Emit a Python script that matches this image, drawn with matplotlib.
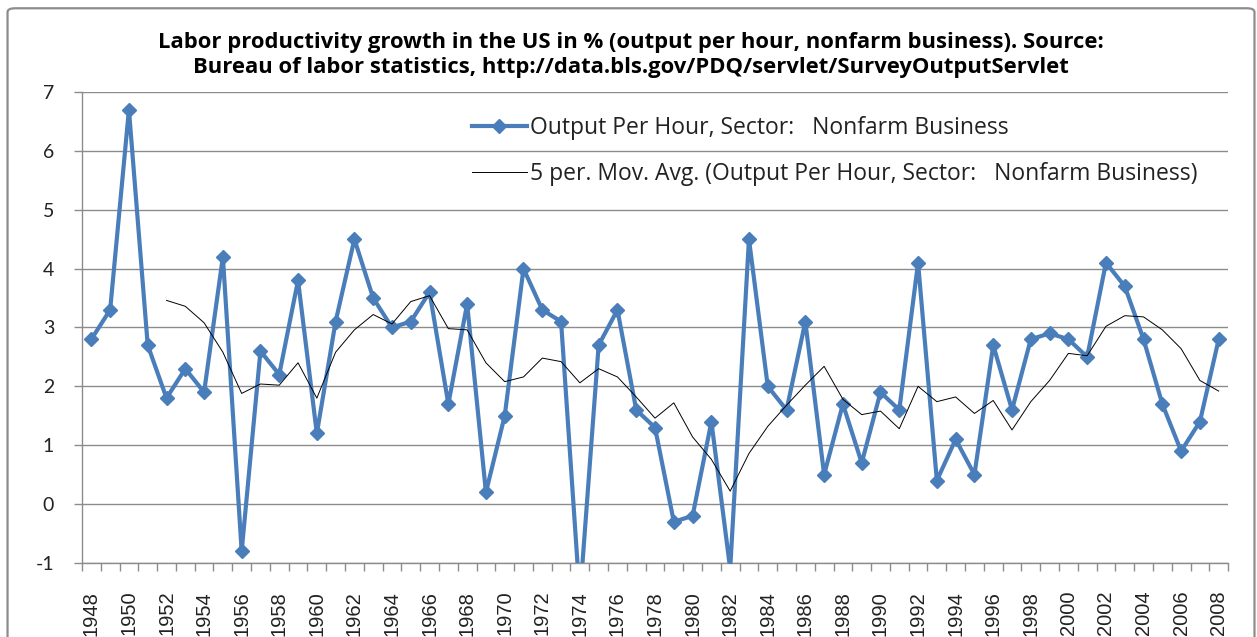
import matplotlib
matplotlib.use("Agg")
import matplotlib.pyplot as plt
from matplotlib.patches import FancyBboxPatch

# data
years = list(range(1948, 2009))
output_per_hour = [
    2.8, 3.3, 6.7, 2.7, 1.8, 2.3, 1.9, 4.2, -0.8, 2.6,
    2.2, 3.8, 1.2, 3.1, 4.5, 3.5, 3.0, 3.1, 3.6, 1.7,
    3.4, 0.2, 1.5, 4.0, 3.3, 3.1, -1.6, 2.7, 3.3, 1.6,
    1.3, -0.3, -0.2, 1.4, -1.1, 4.5, 2.0, 1.6, 3.1, 0.5,
    1.7, 0.7, 1.9, 1.6, 4.1, 0.4, 1.1, 0.5, 2.7, 1.6,
    2.8, 2.9, 2.8, 2.5, 4.1, 3.7, 2.8, 1.7, 0.9, 1.4, 2.8,
]
# 5 period moving average line, starts in 1952
mov_avg_years = list(range(1952, 2009))
mov_avg = [
    3.46, 3.36, 3.08, 2.58, 1.88, 2.04, 2.02, 2.40, 1.80, 2.58,
    2.96, 3.22, 3.06, 3.44, 3.54, 2.98, 2.96, 2.40, 2.08, 2.16,
    2.48, 2.42, 2.06, 2.30, 2.16, 1.82, 1.46, 1.72, 1.14, 0.76,
    0.22, 0.86, 1.32, 1.68, 2.02, 2.34, 1.78, 1.52, 1.58, 1.28,
    2.00, 1.74, 1.82, 1.54, 1.76, 1.26, 1.74, 2.10, 2.56, 2.52,
    3.02, 3.20, 3.18, 2.96, 2.64, 2.10, 1.92,
]
y_ticks = [-1, 0, 1, 2, 3, 4, 5, 6, 7]

title = ("Labor productivity growth in the US in % (output per hour, nonfarm business). Source:\n"
         "Bureau of labor statistics, http://data.bls.gov/PDQ/servlet/SurveyOutputServlet")
label_main = "Output Per Hour, Sector:   Nonfarm Business"
label_avg = "5 per. Mov. Avg. (Output Per Hour, Sector:   Nonfarm Business)"

plt.rcParams["font.family"] = ["Lato", "DejaVu Sans"]

fig = plt.figure(figsize=(12.57, 6.37), dpi=100)
fig.patches.append(FancyBboxPatch((0.006, -0.05), 0.992, 1.037,
                                  boxstyle="round,pad=0,rounding_size=0.006",
                                  transform=fig.transFigure, fill=False,
                                  edgecolor="#8c8c8c", linewidth=1.6))

ax = fig.add_axes([0.0652, 0.1162, 0.9118, 0.7394])

x_main = [y - 1948 for y in years]
x_avg = [y - 1948 for y in mov_avg_years]

ax.plot(x_main, output_per_hour, color="#4a7ebb", linewidth=3.0,
        marker="D", markersize=7.5, label=label_main, zorder=3)
ax.plot(x_avg, mov_avg, color="black", linewidth=0.7, label=label_avg, zorder=4)

ax.set_xlim(-0.5, len(years) - 0.5)
ax.set_ylim(-1, 7)
ax.set_yticks(y_ticks)
ax.set_yticklabels([str(v) for v in y_ticks], fontsize=14, color="#222222")
ax.yaxis.grid(True, color="#8c8c8c", linewidth=1.0)
ax.set_axisbelow(True)

ax.set_xticks(x_main[::2])
ax.set_xticklabels([str(y) for y in years[::2]], rotation=90, fontsize=14.5,
                   color="#222222", family="Liberation Sans")
ax.set_xticks([i - 0.5 for i in range(len(years) + 1)], minor=True)
ax.tick_params(axis="x", which="major", length=0, pad=20)
ax.tick_params(axis="x", which="minor", length=6, color="#8c8c8c", width=1.0, direction="out")
ax.tick_params(axis="y", length=6, color="#8c8c8c", width=1.0, direction="out", pad=14)

for side in ["top", "right"]:
    ax.spines[side].set_visible(False)
for side in ["left", "bottom"]:
    ax.spines[side].set_color("#8c8c8c")
    ax.spines[side].set_linewidth(1.0)

fig.text(0.502, 0.914, title, ha="center", va="center", fontsize=15.8,
         fontweight="bold", linespacing=1.22, family="Open Sans")

ax.legend(loc="upper left", bbox_to_anchor=(0.3587, 0.85), bbox_transform=fig.transFigure,
          frameon=False, prop={"family": "Open Sans", "size": 16.5}, handlelength=2.4,
          handletextpad=0.17, labelspacing=0.97, labelcolor="#222222")

fig.savefig("out.png", dpi=100)
